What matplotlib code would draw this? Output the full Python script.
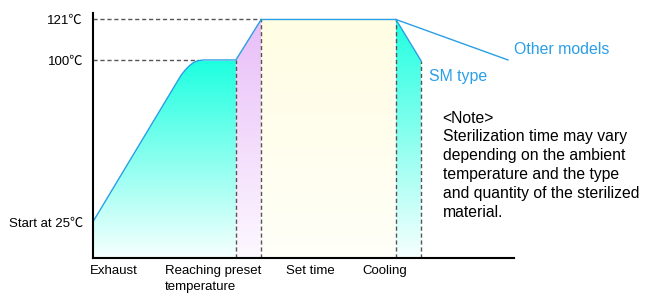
# Схема цикла стерилизации
import numpy as np
import matplotlib.pyplot as plt
from matplotlib.colors import LinearSegmentedColormap

plt.rcParams['font.family'] = ['Liberation Sans', 'Noto Sans CJK JP', 'DejaVu Sans']

# Данные (время в условных единицах, температура в ℃)
exhaust_t = [0, 21, 22, 23, 24, 25, 26.5, 34]
exhaust_temp = [25, 93, 95.4, 97.4, 98.9, 99.7, 100, 100]
heat_t = [34, 40]
heat_temp = [100, 121]
hold_t = [40, 72]
hold_temp = [121, 121]
sm_t = [72, 78]
sm_temp = [121, 99.5]
other_t = [72, 98.6]
other_temp = [121, 100]

temp_ticks = [25, 100, 121]
temp_labels = ['Start at 25℃', '100℃', '121℃']
stage_pos = [5.1, 28.6, 51.6, 69.3]
stage_labels = ['Exhaust', 'Reaching preset\ntemperature', 'Set time', 'Cooling']

note = ('<Note>\nSterilization time may vary\ndepending on the ambient\n'
        'temperature and the type\nand quantity of the sterilized\nmaterial.')

BLUE = '#2a9fe6'
DASH = '#555555'
Y0 = 8.6

# Шкала температуры на схеме не линейная
T_KNOTS = [0, 25, 100, 121, 200]
P_KNOTS = [-18.7, 35.4, 197.7, 238.2, 390.6]

def fwd(t):
    return np.interp(t, T_KNOTS, P_KNOTS)

def inv(p):
    return np.interp(p, P_KNOTS, T_KNOTS)

# Градиентная заливка под кривой
def gradient_fill(ax, x, y, top_color, bottom_color):
    poly = ax.fill_between(x, y, Y0, color='none', lw=0)
    cmap = LinearSegmentedColormap.from_list('g', [bottom_color, top_color])
    grad = np.linspace(0, 1, 256).reshape(-1, 1)
    im = ax.imshow(grad, cmap=cmap, aspect='auto', origin='lower',
                   extent=[min(x), max(x), Y0, max(y)], zorder=1,
                   interpolation='bilinear')
    im.set_clip_path(poly.get_paths()[0], ax.transData)


fig = plt.figure(figsize=(6.49, 2.95), dpi=100)
ax = fig.add_axes([0.1428, 0.1264, 0.649, 0.8285])
ax.set_yscale('function', functions=(fwd, inv))

gradient_fill(ax, exhaust_t, exhaust_temp, '#1cffe0', '#f6fffe')
gradient_fill(ax, heat_t, heat_temp, '#e8bdf8', '#fdf8ff')
gradient_fill(ax, hold_t, hold_temp, '#fffde2', '#fffff8')
gradient_fill(ax, sm_t, sm_temp, '#1cffe0', '#f6fffe')

# Линии процесса
ax.plot(exhaust_t + heat_t + hold_t + sm_t, exhaust_temp + heat_temp + hold_temp + sm_temp,
        color=BLUE, lw=1, zorder=3)
ax.plot(other_t, other_temp, color=BLUE, lw=1, zorder=3, clip_on=False)

# Пунктирные линии
kw = dict(color=DASH, lw=1, dashes=(3, 2), zorder=2)
ax.plot([0, 25], [100, 100], **kw)
ax.plot([0, 40], [121, 121], **kw)
for xv, yv in [(34, 100), (40, 121), (72, 121), (78, 99.5)]:
    ax.plot([xv, xv], [Y0, yv], **kw)

ax.set_xlim(0, 100)
ax.set_ylim(Y0, 124.2)

ax.set_yticks(temp_ticks)
ax.set_yticklabels(temp_labels, fontsize=9.5)
ax.set_xticks(stage_pos)
ax.set_xticklabels(stage_labels, fontsize=9.5)
for lab in ax.get_xticklabels():
    lab.set_multialignment('left')
    lab.set_linespacing(1.45)
ax.tick_params(axis='y', length=0, pad=7)
ax.tick_params(axis='x', length=0, pad=5)
ax.yaxis.set_minor_locator(plt.NullLocator())

for s in ['top', 'right']:
    ax.spines[s].set_visible(False)
for s in ['left', 'bottom']:
    ax.spines[s].set_linewidth(1.5)
    ax.spines[s].set_zorder(4)

ax.text(100, 105.5, 'Other models', color=BLUE, fontsize=11.4, va='center', clip_on=False)
ax.text(79.8, 92.4, 'SM type', color=BLUE, fontsize=11.4, va='center')
ax.text(83.1, 76.6, note, fontsize=11.35, va='top', linespacing=1.32, clip_on=False)

fig.savefig('out.png', dpi=100)
